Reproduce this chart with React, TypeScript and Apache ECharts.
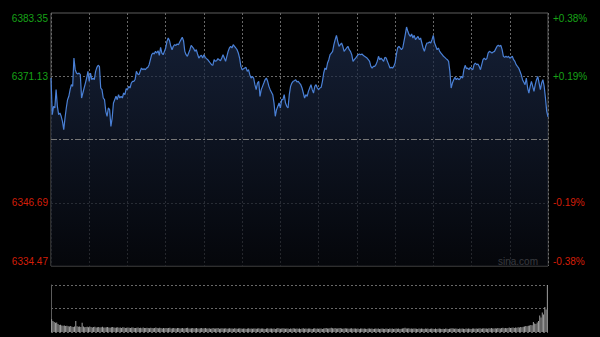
import React, { useEffect, useRef } from "react";
import * as echarts from "echarts";

// Intraday price trace: [minute since open, price]
const pricePoints: [number, number][] = [
  [0, 6370.79], [1, 6363.71], [2, 6365.32], [3, 6365.0], [4, 6368.54], [5, 6365.32], [6, 6363.71], [7, 6364.03], [8, 6363.39], [9, 6362.42],
  [10, 6360.81], [11, 6363.06], [12, 6365.0], [13, 6366.6], [14, 6367.25], [15, 6368.54], [16, 6369.5], [17, 6369.18], [18, 6374.65], [19, 6372.4],
  [20, 6371.76], [21, 6371.56], [22, 6371.76], [23, 6371.43], [24, 6366.93], [25, 6367.89], [26, 6368.86], [27, 6369.82], [28, 6370.79], [29, 6372.08],
  [30, 6370.15], [31, 6371.76], [32, 6370.47], [33, 6370.79], [34, 6370.47], [35, 6372.08], [36, 6372.85], [37, 6373.24], [38, 6373.04], [39, 6368.86],
  [40, 6368.54], [41, 6366.93], [42, 6366.6], [43, 6364.35], [44, 6363.39], [45, 6365.0], [46, 6364.67], [47, 6361.45], [48, 6363.06], [49, 6365.96],
  [50, 6366.6], [51, 6367.25], [52, 6366.6], [53, 6367.57], [54, 6366.93], [55, 6367.25], [56, 6366.93], [57, 6367.89], [58, 6367.57], [59, 6368.73],
  [60, 6368.54], [61, 6369.18], [62, 6368.86], [63, 6369.82], [64, 6370.15], [65, 6370.15], [66, 6370.5], [67, 6372.08], [68, 6371.56], [69, 6371.43],
  [70, 6372.08], [71, 6372.72], [72, 6372.4], [73, 6372.59], [74, 6372.4], [75, 6372.72], [76, 6372.85], [77, 6373.37], [78, 6374.33], [79, 6375.3],
  [80, 6375.62], [81, 6375.43], [82, 6375.94], [83, 6375.62], [84, 6376.07], [85, 6375.17], [86, 6376.71], [87, 6375.62], [88, 6375.3],
  [90, 6376.59], [91, 6377.87], [92, 6378.52], [93, 6378.0], [94, 6376.91], [95, 6376.26], [96, 6376.91], [97, 6377.23], [98, 6377.1], [99, 6377.36],
  [100, 6377.23], [101, 6377.75], [102, 6378.2], [103, 6378.65], [104, 6378.0], [105, 6375.94], [106, 6375.3], [107, 6374.98], [108, 6375.62], [109, 6376.26],
  [110, 6377.1], [112, 6376.46], [113, 6375.94], [114, 6376.26], [115, 6375.43], [116, 6374.65], [117, 6374.98], [118, 6375.17], [119, 6374.65],
  [120, 6375.3], [121, 6374.78], [122, 6374.53], [123, 6374.33], [124, 6374.01], [125, 6373.69], [126, 6373.37], [127, 6373.24], [128, 6374.33], [129, 6374.01],
  [130, 6374.14], [131, 6374.53], [132, 6374.33], [133, 6374.14], [134, 6374.65], [135, 6375.3], [136, 6374.65], [137, 6374.01], [138, 6374.98], [139, 6375.94],
  [140, 6376.59], [141, 6376.91], [142, 6376.59], [143, 6377.23], [144, 6376.91], [145, 6376.59], [146, 6376.26], [147, 6375.62], [148, 6374.65], [149, 6373.04],
  [150, 6372.4], [152, 6372.72], [153, 6372.85], [154, 6372.08], [155, 6372.4], [156, 6371.43], [157, 6370.79], [158, 6371.11], [159, 6370.79],
  [160, 6369.5], [161, 6368.54], [162, 6369.82], [163, 6370.15], [164, 6367.25], [165, 6368.54], [166, 6369.18], [167, 6369.82], [168, 6370.47], [169, 6370.79],
  [170, 6370.15], [171, 6369.18], [172, 6368.54], [174, 6367.57], [175, 6365.96], [176, 6363.39], [177, 6364.67], [178, 6365.32], [179, 6365.96],
  [180, 6365.0], [181, 6366.6], [182, 6366.6], [183, 6367.57], [184, 6365.96], [185, 6365.32], [186, 6365.0], [187, 6367.57], [188, 6369.18], [189, 6369.82],
  [190, 6370.15], [191, 6370.27], [192, 6370.47], [193, 6370.02], [194, 6370.15], [195, 6369.8], [196, 6369.5], [197, 6368.86], [198, 6367.89], [199, 6366.93],
  [200, 6367.57], [201, 6367.25], [202, 6368.21], [203, 6368.86], [204, 6369.5], [205, 6368.54], [206, 6367.89], [207, 6369.18], [208, 6369.5], [209, 6368.86],
  [210, 6368.54], [211, 6368.86], [212, 6368.99], [213, 6370.15], [214, 6371.76], [215, 6372.72], [216, 6372.4], [217, 6373.69], [218, 6374.33], [219, 6375.3],
  [220, 6375.62], [221, 6375.94], [222, 6377.23], [223, 6378.2], [224, 6379.03], [225, 6377.87], [226, 6376.91], [227, 6377.23], [228, 6377.55], [229, 6376.91],
  [230, 6375.94], [231, 6376.26], [232, 6376.59], [233, 6376.91], [234, 6376.26], [235, 6375.94], [236, 6375.3], [237, 6374.01], [238, 6374.33], [239, 6374.65],
  [240, 6374.98], [241, 6375.3], [242, 6375.43], [243, 6375.3], [244, 6375.43], [245, 6375.17], [246, 6374.98], [248, 6374.65], [249, 6374.33],
  [250, 6374.01], [251, 6373.04], [252, 6372.72], [253, 6373.04], [254, 6373.04], [255, 6373.37], [256, 6374.01], [257, 6374.98], [258, 6374.33], [259, 6374.65],
  [260, 6374.33], [261, 6374.01], [262, 6374.78], [263, 6374.65], [264, 6374.01], [265, 6373.37], [266, 6372.72], [267, 6372.85], [268, 6372.72], [269, 6373.04],
  [270, 6373.69], [271, 6375.3], [272, 6376.59], [273, 6376.91], [274, 6376.59], [275, 6376.26], [276, 6376.59], [277, 6377.87], [278, 6379.16], [279, 6380.64],
  [280, 6379.81], [281, 6379.16], [282, 6378.84], [283, 6379.29], [284, 6378.52], [285, 6379.03], [286, 6378.2], [288, 6378.84], [289, 6378.2],
  [290, 6378.52], [291, 6377.55], [292, 6376.59], [293, 6375.94], [294, 6376.91], [295, 6377.55], [296, 6377.55], [297, 6377.75], [298, 6377.55], [299, 6378.2],
  [300, 6379.03], [301, 6377.55], [302, 6376.91], [303, 6376.26], [304, 6376.59], [305, 6375.94], [306, 6375.62], [307, 6375.3], [308, 6374.98], [309, 6374.78],
  [310, 6374.53], [311, 6374.33], [312, 6374.01], [313, 6372.08], [314, 6368.86], [315, 6369.82], [316, 6370.47], [317, 6370.92], [318, 6370.47], [319, 6370.79],
  [320, 6370.47], [321, 6370.66], [322, 6371.11], [323, 6370.79], [324, 6372.4], [325, 6373.24], [326, 6372.6], [327, 6372.72], [328, 6372.4], [329, 6372.85],
  [330, 6372.59], [331, 6372.4], [332, 6373.37], [333, 6373.69], [334, 6373.37], [335, 6373.5], [336, 6373.04], [337, 6372.4], [338, 6373.37], [339, 6374.33],
  [340, 6374.65], [341, 6374.33], [342, 6374.53], [343, 6375.62], [344, 6375.94], [345, 6375.81], [346, 6375.62], [347, 6375.81], [348, 6375.94],
  [350, 6376.91], [351, 6377.1], [352, 6376.91], [353, 6377.1], [354, 6376.26], [355, 6374.98], [356, 6374.78], [357, 6374.98], [358, 6374.78], [359, 6374.98],
  [360, 6374.65], [361, 6374.78], [362, 6374.98], [363, 6374.33], [364, 6374.01], [365, 6373.37], [366, 6373.04], [367, 6372.72], [368, 6372.08], [369, 6371.43],
  [370, 6370.47], [372, 6369.5], [373, 6370.79], [374, 6368.86], [375, 6367.89], [376, 6369.18], [377, 6370.15], [378, 6369.18], [379, 6368.21],
  [380, 6369.5], [381, 6370.47], [382, 6371.11], [383, 6369.82], [384, 6368.54], [385, 6369.82], [386, 6370.47], [387, 6369.18], [388, 6366.93], [389, 6364.35],
  [390, 6363.3],
];

// Per-minute volume (arbitrary units)
const volumes: number[] = [
  127, 110, 100, 93, 95, 80, 70, 72, 65, 63, 64, 60, 62, 58, 55, 60, 52, 50, 55, 110,
  58, 52, 55, 50, 93, 54, 48, 50, 52, 47, 55, 50, 46, 49, 52, 45, 48, 50, 44, 47,
  52, 46, 44, 48, 50, 45, 43, 47, 49, 44, 42, 46, 48, 43, 45, 41, 47, 44, 40, 43,
  45, 42, 40, 44, 46, 41, 39, 43, 45, 40, 42, 38, 44, 41, 39, 42, 40, 37, 43, 40,
  38, 41, 44, 39, 37, 42, 40, 36, 41, 38, 40, 37, 39, 42, 36, 38, 41, 37, 35, 39,
  41, 36, 38, 40, 35, 37, 39, 42, 36, 34, 38, 40, 35, 37, 39, 34, 36, 38, 41, 35,
  37, 39, 34, 36, 38, 33, 35, 40, 36, 34, 37, 39, 33, 35, 38, 36, 34, 37, 32, 35,
  38, 34, 36, 33, 37, 35, 32, 36, 38, 34, 33, 36, 35, 31, 34, 37, 33, 35, 32, 34,
  36, 33, 35, 38, 32, 34, 36, 33, 31, 35, 37, 32, 34, 36, 33, 35, 31, 34, 40, 36,
  33, 35, 38, 34, 32, 36, 34, 31, 35, 33, 37, 34, 32, 35, 33, 36, 31, 34, 37, 33,
  35, 32, 34, 36, 33, 31, 35, 37, 33, 34, 32, 36, 34, 31, 35, 38, 40, 36, 34, 37,
  42, 38, 35, 39, 36, 34, 37, 40, 35, 33, 36, 38, 34, 36, 33, 35, 37, 32, 34, 36,
  33, 35, 31, 34, 36, 32, 35, 33, 31, 34, 36, 32, 34, 30, 33, 35, 32, 34, 31, 33,
  35, 32, 30, 34, 33, 31, 35, 32, 34, 30, 33, 36, 32, 34, 31, 33, 35, 38, 42, 36,
  34, 37, 33, 35, 32, 34, 36, 33, 31, 34, 32, 35, 33, 30, 34, 32, 35, 31, 33, 34,
  32, 30, 34, 31, 33, 35, 32, 30, 33, 31, 34, 32, 30, 33, 35, 38, 34, 32, 35, 33,
  31, 34, 32, 35, 33, 30, 34, 32, 35, 33, 31, 34, 36, 33, 35, 32, 34, 37, 33, 35,
  38, 34, 36, 33, 37, 35, 39, 36, 34, 38, 36, 40, 37, 35, 39, 42, 38, 40, 37, 41,
  44, 40, 42, 45, 41, 46, 43, 48, 45, 50, 47, 52, 55, 60, 58, 62, 65, 70, 68, 100,
  85, 80, 95, 110, 165, 145, 195, 175, 250, 225, 470,
];

const prevClose = 6358.91;
const priceMin = 6334.47;
const priceMax = 6383.35;
const leftTickLabels = ["6334.47", "6346.69", "", "6371.13", "6383.35"];
const rightTickLabels = ["-0.38%", "-0.19%", "", "+0.19%", "+0.38%"];
const volumeMax = 470;

const FONT = "'Liberation Sans', Arial, sans-serif";
const UP = "#17a317";
const DOWN = "#d41e08";
const GRIDC = "#686868";

export default function App() {
  const ref = useRef<HTMLDivElement>(null);
  useEffect(() => {
    if (!ref.current) return;
    const chart = echarts.init(ref.current, undefined, { renderer: "svg" });
    const volumeMinutes = volumes.map((_, i) => String(i));
    const labelColor = (_v: any, i: number) => (i >= 3 ? UP : DOWN);
    chart.setOption({
      animation: false,
      backgroundColor: "#000",
      grid: [
        { left: 51, top: 13, width: 497, height: 253, show: true, borderColor: "#5c5c5c", borderWidth: 1 },
        { left: 51, top: 285, width: 497, height: 47 },
      ],
      xAxis: [
        {
          type: "value", gridIndex: 0, min: 0, max: 390, interval: 30,
          axisLabel: { show: false }, axisTick: { show: false }, axisLine: { show: false },
          splitLine: { show: true, lineStyle: { color: GRIDC, type: [2, 2], width: 1 } },
        },
        {
          type: "category", gridIndex: 1, data: volumeMinutes, boundaryGap: true,
          axisLabel: { show: false }, axisTick: { show: false }, axisLine: { show: false },
          splitLine: { show: false },
        },
      ],
      yAxis: [
        { type: "value", gridIndex: 0, min: priceMin, max: priceMax, show: false, scale: true },
        {
          type: "value", gridIndex: 0, min: 0, max: 4, interval: 1, position: "left",
          axisLine: { show: false }, axisTick: { show: false },
          axisLabel: {
            show: true, margin: 3, fontSize: 10, fontFamily: FONT,
            formatter: (v: number) => leftTickLabels[Math.round(v)],
            color: labelColor,
            verticalAlignMinLabel: "bottom", verticalAlignMaxLabel: "top",
          },
          splitLine: {
            show: true,
            lineStyle: { color: ["transparent", GRIDC, "transparent", GRIDC, "transparent"], type: [2, 2], width: 1 },
          },
        },
        {
          type: "value", gridIndex: 0, min: 0, max: 4, interval: 1, position: "right",
          axisLine: { show: false }, axisTick: { show: false },
          axisLabel: {
            show: true, margin: 5, fontSize: 10, fontFamily: FONT,
            formatter: (v: number) => rightTickLabels[Math.round(v)],
            color: labelColor,
            verticalAlignMinLabel: "bottom", verticalAlignMaxLabel: "top",
          },
          splitLine: { show: false },
        },
        {
          type: "value", gridIndex: 1, min: 0, max: volumeMax, interval: volumeMax / 2,
          axisLabel: { show: false }, axisTick: { show: false },
          axisLine: { show: true, lineStyle: { color: "#5c5c5c", width: 1 } },
          splitLine: { show: true, lineStyle: { color: GRIDC, type: [2, 2], width: 1 } },
        },
      ],
      series: [
        {
          type: "line", xAxisIndex: 0, yAxisIndex: 0, data: pricePoints,
          showSymbol: false, symbol: "none",
          lineStyle: { color: "#4a80d6", width: 1.2 },
          areaStyle: {
            origin: "start",
            color: new echarts.graphic.LinearGradient(0, 0, 0, 1, [
              { offset: 0, color: "#1d2c4b" },
              { offset: 1, color: "#07090f" },
            ]),
          },
          markLine: {
            silent: true, symbol: "none", label: { show: false },
            lineStyle: { color: "#777", type: [6, 2, 2, 2], width: 1 },
            data: [{ yAxis: prevClose }],
          },
        },
        {
          type: "bar", xAxisIndex: 1, yAxisIndex: 3, data: volumes,
          barWidth: 1, itemStyle: { color: "#a0a0a0" },
        },
      ],
      graphic: [
        {
          type: "text", x: 498, y: 261,
          style: { text: "sina.com", fill: "#a6a6a6", font: `10px ${FONT}`, verticalAlign: "middle" },
        },
      ],
    });
    return () => chart.dispose();
  }, []);
  return (
    <div
      ref={ref}
      style={{ position: "absolute", left: 0, top: 0, width: 600, height: 337, background: "#000" }}
    />
  );
}
